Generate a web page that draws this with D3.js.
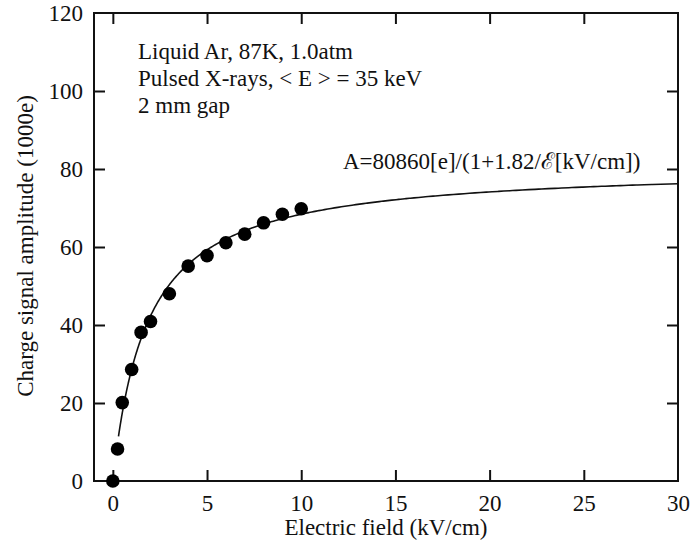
<!DOCTYPE html>
<html>
<head>
<meta charset="utf-8">
<script src="https://cdn.jsdelivr.net/npm/d3@7/dist/d3.min.js"></script>
<style>
  html, body { margin: 0; padding: 0; background: #fff; }
  svg { display: block; }
  text { font-family: "Liberation Serif", "Times New Roman", serif; fill: #111; }
</style>
</head>
<body>
<svg id="chart" width="691" height="552"></svg>
<script>
// Measured charge amplitude (×1000 e) vs drift field (kV/cm)
const fieldKV = [0, 0.25, 0.5, 1.0, 1.5, 2.0, 3.0, 4.0, 5.0, 6.0, 7.0, 8.0, 9.0, 10.0];
const amplitude = [0, 8.2, 20.1, 28.6, 38.1, 40.9, 48.0, 55.1, 57.8, 61.1, 63.3, 66.2, 68.4, 69.8];

// Fit parameters: A = A0 / (1 + k / E)
const fitA0 = 80.86;   // in 1000 e
const fitK = 1.82;     // kV/cm
const fitRange = [0.3, 30];

const xTicks = [0, 5, 10, 15, 20, 25, 30];
const yTicks = [0, 20, 40, 60, 80, 100, 120];

const infoLines = [
  "Liquid Ar, 87K, 1.0atm",
  "Pulsed X-rays, < E > = 35 keV",
  "2 mm gap"
];
const fitLabel = "A=80860[e]/(1+1.82/\u2130[kV/cm])";
const xTitle = "Electric field (kV/cm)";
const yTitle = "Charge signal amplitude (1000e)";

const svg = d3.select("#chart");
const m = { left: 94, right: 678, top: 13, bottom: 481 };

const x = d3.scaleLinear().domain([-1, 30]).range([m.left, m.right]);
const y = d3.scaleLinear().domain([0, 120]).range([m.bottom, m.top]);

const tickLen = 11;
const fontSize = 23;

// Bottom axis: labels outside, ticks pointing into the plot
const gx = svg.append("g").attr("transform", `translate(0,${m.bottom})`)
  .call(d3.axisBottom(x).tickValues(xTicks).tickSizeInner(-tickLen).tickSizeOuter(0).tickPadding(14));
gx.select(".domain").remove();
gx.selectAll(".tick line").attr("stroke", "#111").attr("stroke-width", 2)
  .filter(d => d === 30).remove();
gx.selectAll(".tick text").attr("font-size", fontSize).attr("font-family", "Liberation Serif");

// Top axis ticks (no labels)
const gxt = svg.append("g").attr("transform", `translate(0,${m.top})`)
  .call(d3.axisTop(x).tickValues(xTicks.filter(v => v < 30)).tickSizeInner(-tickLen).tickSizeOuter(0).tickFormat(""));
gxt.select(".domain").remove();
gxt.selectAll(".tick line").attr("stroke", "#111").attr("stroke-width", 2);

// Left axis
const gy = svg.append("g").attr("transform", `translate(${m.left},0)`)
  .call(d3.axisLeft(y).tickValues(yTicks).tickSizeInner(-tickLen).tickSizeOuter(0).tickPadding(11));
gy.select(".domain").remove();
gy.selectAll(".tick line").attr("stroke", "#111").attr("stroke-width", 2)
  .filter(d => d === 0 || d === 120).remove();
gy.selectAll(".tick text").attr("font-size", fontSize).attr("font-family", "Liberation Serif");

// Right axis ticks (no labels)
const gyr = svg.append("g").attr("transform", `translate(${m.right},0)`)
  .call(d3.axisRight(y).tickValues(yTicks.filter(v => v > 0 && v < 120)).tickSizeInner(-tickLen).tickSizeOuter(0).tickFormat(""));
gyr.select(".domain").remove();
gyr.selectAll(".tick line").attr("stroke", "#111").attr("stroke-width", 2);

// Frame
svg.append("rect")
  .attr("x", m.left).attr("y", m.top)
  .attr("width", m.right - m.left).attr("height", m.bottom - m.top)
  .attr("fill", "none").attr("stroke", "#111").attr("stroke-width", 2);

// Fit curve
const fitPts = d3.range(0, 301).map(i => {
  const e = fitRange[0] * Math.pow(fitRange[1] / fitRange[0], i / 300);
  return [e, fitA0 / (1 + fitK / e)];
});
svg.append("path")
  .datum(fitPts)
  .attr("fill", "none").attr("stroke", "#111").attr("stroke-width", 1.6)
  .attr("d", d3.line().x(d => x(d[0])).y(d => y(d[1])).curve(d3.curveMonotoneX));

// Data points
svg.append("g").selectAll("circle")
  .data(fieldKV.map((e, i) => [e, amplitude[i]]))
  .join("circle")
  .attr("cx", d => x(d[0])).attr("cy", d => y(d[1]))
  .attr("r", 6.8).attr("fill", "#000");

// Annotation block
svg.append("g").selectAll("text")
  .data(infoLines)
  .join("text")
  .attr("x", 138).attr("y", (d, i) => 59 + i * 27)
  .attr("font-size", fontSize)
  .text(d => d);

svg.append("text")
  .attr("x", 343).attr("y", 169)
  .attr("font-size", fontSize)
  .text(fitLabel);

// Axis titles
svg.append("text")
  .attr("x", 386).attr("y", 535)
  .attr("text-anchor", "middle").attr("font-size", fontSize)
  .text(xTitle);

svg.append("text")
  .attr("transform", `translate(33,246) rotate(-90)`)
  .attr("text-anchor", "middle").attr("font-size", fontSize)
  .text(yTitle);
</script>
</body>
</html>
